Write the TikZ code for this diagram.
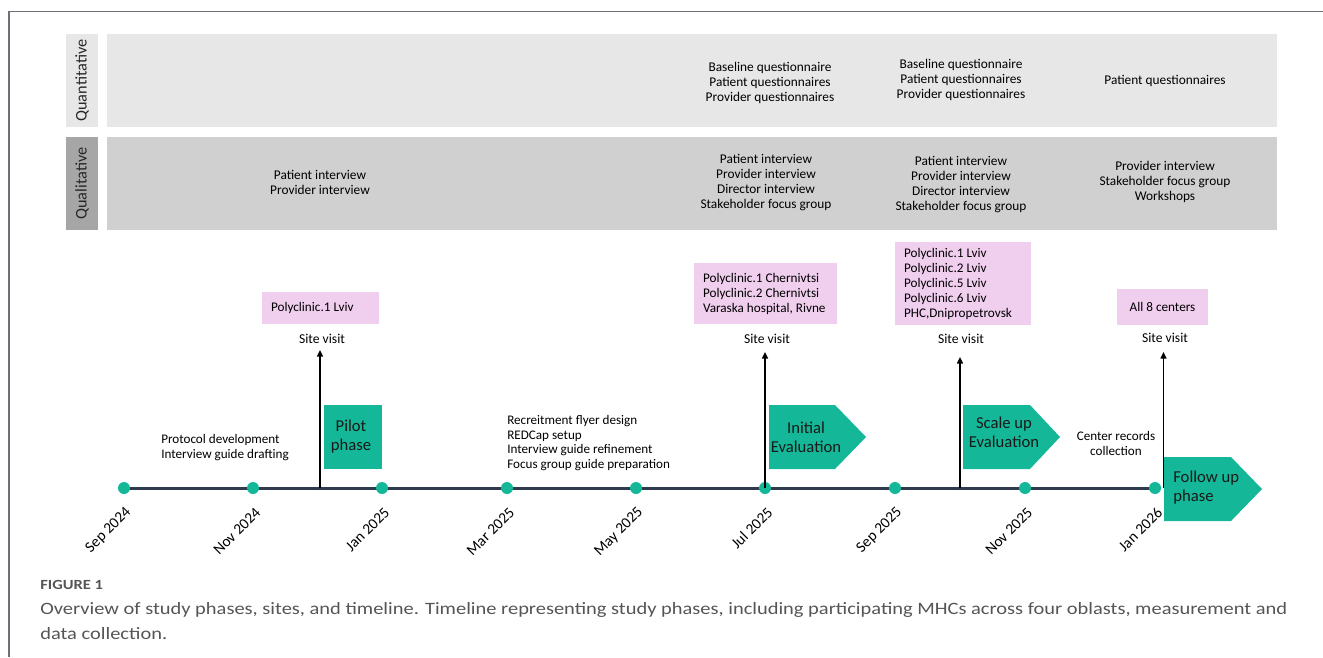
\documentclass[tikz,border=0pt]{standalone}
\usepackage{fontspec}
\setmainfont{Carlito}
\newfontfamily\capfont[FakeStretch=1.18]{Carlito}
\usetikzlibrary{arrows.meta,fit,calc}
\definecolor{teal1}{HTML}{14B898}
\definecolor{pinkb}{HTML}{F0CEEE}
\definecolor{tline}{HTML}{2E3B4E}
\definecolor{quantbg}{HTML}{E7E7E7}
\definecolor{qualbg}{HTML}{D0D0D0}
\definecolor{quallab}{HTML}{A6A6A6}
\definecolor{framec}{HTML}{6F6F78}
\definecolor{capc}{HTML}{555555}
\tikzset{
  bandbox/.style={inner sep=0pt, draw=none},
  bandtxt/.style={font=\fontsize{10}{11.25}\selectfont, align=center, inner sep=0pt},
  vlab/.style={font=\fontsize{12.2}{14}\selectfont, rotate=90, inner sep=0pt, text=black!85},
  tdot/.style={circle, fill=teal1, minimum size=9pt, inner sep=0pt},
  tl/.style={draw=tline, line width=2.25pt},
  datelab/.style={font=\fontsize{11.5}{13}\selectfont, rotate=45, anchor=east, inner sep=0pt},
  svlab/.style={font=\fontsize{10.2}{12}\selectfont, inner sep=0pt},
  varrow/.style={-{Triangle[length=5pt,width=4.5pt]}, line width=1.1pt, draw=black},
  pinkbox/.style={fill=pinkb, inner sep=0pt, draw=none},
  pinktxt/.style={font=\fontsize{9.9}{11.25}\selectfont, align=left, inner sep=0pt, anchor=west},
  notetxt/.style={font=\fontsize{9.85}{11.1}\selectfont, align=left, inner sep=0pt},
  phasefill/.style={fill=teal1, draw=none},
  phasetxt/.style={font=\fontsize{12.5}{14.25}\selectfont, align=center, inner sep=0pt, text=black!90},
}
\begin{document}
\begin{tikzpicture}[x=0.75pt,y=-0.75pt]
\useasboundingbox (0,0) rectangle (1323,657);
% frame
\draw[framec, line width=1.1pt] (9,657) -- (9,11.5) -- (1323,11.5);

% bands
\node[bandbox, fill=quantbg, fit={(66,34) (98,127)}] (qnl) {};
\node[vlab] (qnlt) at (qnl.center) {Quantitative};
\node[bandbox, fill=quantbg, fit={(107,34) (1277,127)}] (qnb) {};
\node[bandbox, fill=quallab, fit={(66,137) (98,230)}] (qll) {};
\node[vlab] (qllt) at (qll.center) {Qualitative};
\node[bandbox, fill=qualbg, fit={(107,137) (1277,230)}] (qlb) {};

\node[bandtxt] (quan2) at (770,83) {Baseline questionnaire\\Patient questionnaires\\Provider questionnaires};
\node[bandtxt] (quan3) at (961,80) {Baseline questionnaire\\Patient questionnaires\\Provider questionnaires};
\node[bandtxt] (quan4) at (1165,81) {Patient questionnaires};

\node[bandtxt] (qual1) at (320,182.5) {Patient interview\\Provider interview};
\node[bandtxt] (qual2) at (766,182.5) {Patient interview\\Provider interview\\Director interview\\Stakeholder focus group};
\node[bandtxt] (qual3) at (961,184.5) {Patient interview\\Provider interview\\Director interview\\Stakeholder focus group};
\node[bandtxt] (qual4) at (1165,182) {Provider interview\\Stakeholder focus group\\Workshops};

% pink site boxes
\node[pinkbox, fit={(262,292) (379,324)}] (pb1) {};
\node[pinktxt] (pt1) at ($(pb1.west)+(9,0)$) {Polyclinic.1 Lviv};
\node[pinkbox, fit={(694,263) (837,324)}] (pb2) {};
\node[pinktxt] (pt2) at ($(pb2.west)+(9,0)$) {Polyclinic.1 Chernivtsi\\Polyclinic.2 Chernivtsi\\Varaska hospital, Rivne};
\node[pinkbox, fit={(895,242) (1031,325)}] (pb3) {};
\node[pinktxt] (pt3) at ($(pb3.west)+(9,0)$) {Polyclinic.1 Lviv\\Polyclinic.2 Lviv\\Polyclinic.5 Lviv\\Polyclinic.6 Lviv\\PHC,Dnipropetrovsk};
\node[pinkbox, fit={(1117,289) (1208,325)}] (pb4) {};
\node[pinktxt, anchor=center] (pt4) at (pb4.center) {All 8 centers};

% site visit labels
\node[svlab] (sv1) at (322,339) {Site visit};
\node[svlab] (sv2) at (767,339) {Site visit};
\node[svlab] (sv3) at (961,339) {Site visit};
\node[svlab] (sv4) at (1165,338) {Site visit};

% notes
\node[notetxt, anchor=west] (n1) at (161,447.5) {Protocol development\\Interview guide drafting};
\node[notetxt, anchor=west] (n2) at (507,443) {Recreitment flyer design\\REDCap setup\\Interview guide refinement\\Focus group guide preparation};
\node[notetxt, align=center] (n3) at (1116,443.5) {Center records\\collection};

% timeline
\coordinate (t1) at (124,488);
\coordinate (t2) at (253,488);
\coordinate (t3) at (382,488);
\coordinate (t4) at (507,488);
\coordinate (t5) at (636,488);
\coordinate (t6) at (765,488);
\coordinate (t7) at (895,488);
\coordinate (t8) at (1025,488);
\coordinate (t9) at (1155,488);
\draw[tl] (t1) -- (t9);
\foreach \i/\lab in {1/Sep 2024,2/Nov 2024,3/Jan 2025,4/Mar 2025,5/May 2025,6/Jul 2025,7/Sep 2025,8/Nov 2025,9/Jan 2026}{
  \node[tdot] (d\i) at (t\i) {};
  \node[datelab] (dl\i) at ($(t\i)+(5,22)$) {\lab};
}

% phases
\node[bandbox, phasefill, fit={(324,405) (382,469)}] (pilot) {};
\node[phasetxt] (pilott) at (351,437) {Pilot\\phase};
\fill[phasefill] (769,405) -- (835,405) -- (866,437) -- (835,469) -- (769,469) -- cycle;
\node[phasetxt] (initt) at (806,437.5) {Initial\\Evaluation};
\fill[phasefill] (963,405) -- (1030,405) -- (1060,437) -- (1030,469) -- (963,469) -- cycle;
\node[phasetxt] (scalet) at (1004,432.5) {Scale up\\Evaluation};
\fill[phasefill] (1164,457) -- (1231,457) -- (1262,489) -- (1231,521) -- (1164,521) -- cycle;
\node[phasetxt, align=left, anchor=west] (followt) at (1173,487.5) {Follow up\\phase};

% site visit arrows
\coordinate (a1) at (320,488); \coordinate (a1t) at (320,350);
\coordinate (a2) at (765,488); \coordinate (a2t) at (765,352);
\coordinate (a3) at (960,488); \coordinate (a3t) at (960,357);
\coordinate (a4) at (1163.5,488); \coordinate (a4t) at (1163.5,352);
\draw[varrow] (a1) -- (a1t);
\draw[varrow] (a2) -- (a2t);
\draw[varrow] (a3) -- (a3t);
\draw[varrow] (a4) -- (a4t);

% caption
\node[font=\capfont\fontsize{10.5}{12}\selectfont\bfseries, text=capc, anchor=west, inner sep=0pt] (figl) at (40,584.5) {FIGURE 1};
\node[font=\capfont\fontsize{13}{18.75}\selectfont, text=capc, anchor=north west, align=left, inner sep=0pt] (cap) at (40,602) {Overview of study phases, sites, and timeline. Timeline representing study phases, including participating MHCs across four oblasts, measurement and\\data collection.};
\end{tikzpicture}
\end{document}
